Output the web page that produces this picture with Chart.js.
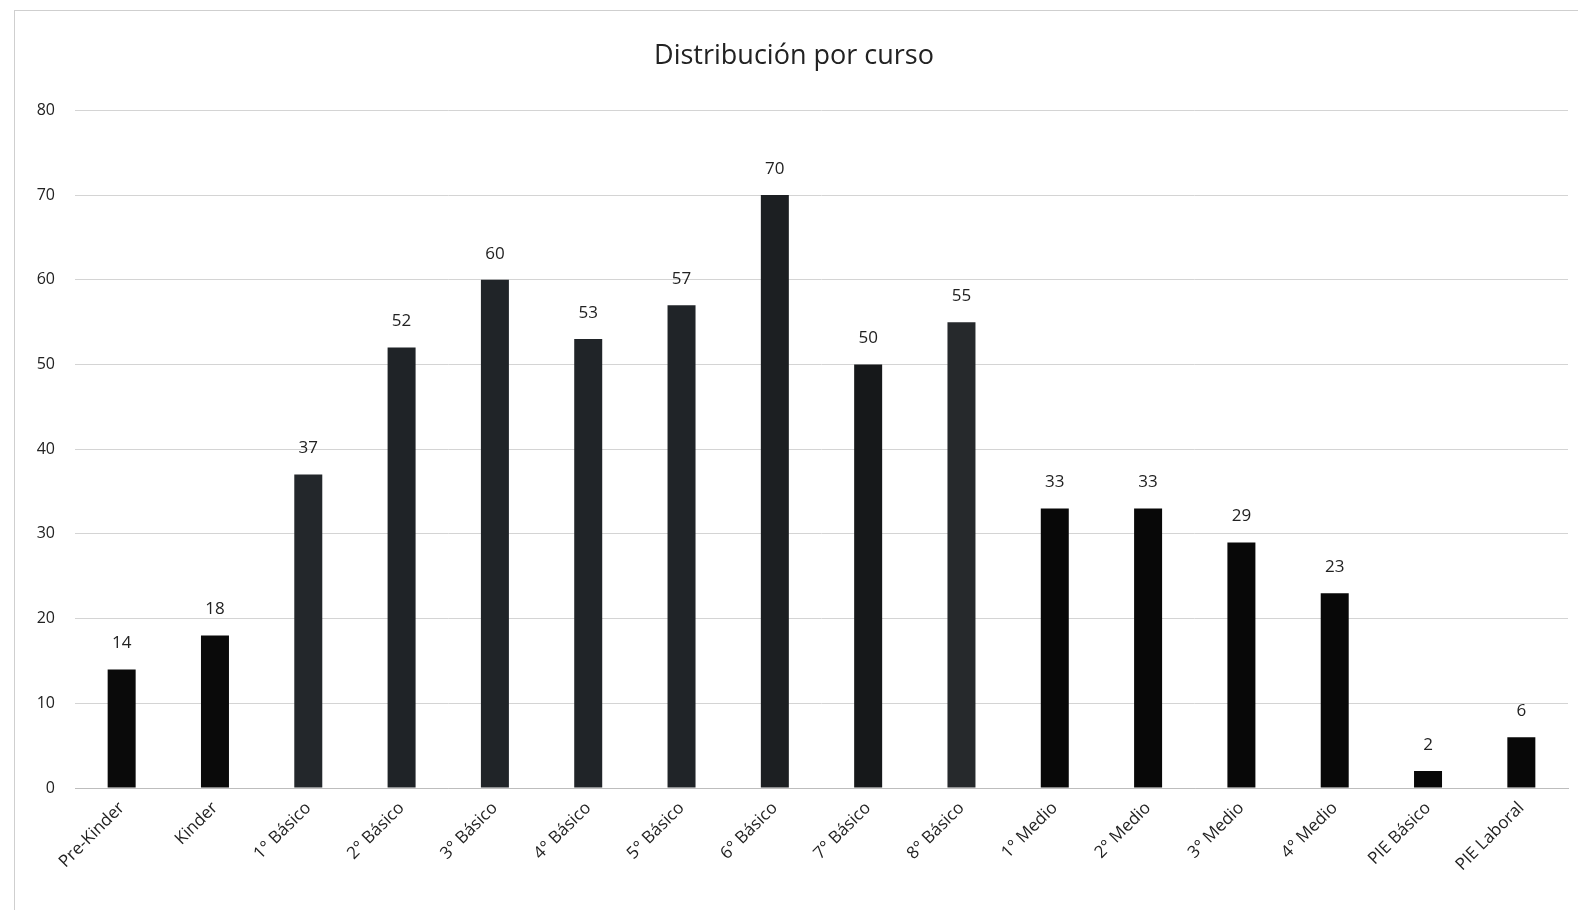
<!DOCTYPE html>
<html><head><meta charset="utf-8">
<script src="https://cdn.jsdelivr.net/npm/chart.js@4"></script>
<style>
html,body{margin:0;padding:0;background:#fff;}
#wrap{position:absolute;left:0;top:0;width:1578px;height:910px;}
#frame{position:absolute;left:14px;top:10px;width:1570px;height:905px;border:1px solid #cfcfcf;box-sizing:border-box;pointer-events:none;}
</style></head>
<body>
<div id="wrap"><canvas id="c" width="1578" height="910"></canvas></div>
<div id="frame"></div>
<script>
const categories = ["Pre-Kinder","Kinder","1° Básico","2° Básico","3° Básico","4° Básico","5° Básico","6° Básico","7° Básico","8° Básico","1° Medio","2° Medio","3° Medio","4° Medio","PIE Básico","PIE Laboral"];
const students = [14,18,37,52,60,53,57,70,50,55,33,33,29,23,2,6];
const barColors = ["#0a0a0a","#0a0a0a","#23272b","#1f2327","#202428","#202428","#202428","#1c1f22","#16181a","#26292c","#080808","#080808","#080808","#080808","#080808","#080808"];
const yTicks = [0,10,20,30,40,50,60,70,80];

const labelPlugin = {
  id:'valueLabels',
  afterDatasetsDraw(chart){
    const ctx = chart.ctx;
    const meta = chart.getDatasetMeta(0);
    ctx.save();
    ctx.font = '17px "Open Sans", sans-serif';
    ctx.fillStyle = '#222';
    ctx.textAlign = 'center';
    ctx.textBaseline = 'middle';
    meta.data.forEach((bar,i)=>{
      ctx.fillText(String(students[i]), bar.x, bar.y - 26);
    });
    ctx.restore();
  }
};

new Chart(document.getElementById('c'),{
  type:'bar',
  data:{labels:categories,datasets:[{data:students,backgroundColor:barColors,barPercentage:0.3,categoryPercentage:1}]},
  options:{
    responsive:false,animation:false,devicePixelRatio:1,
    layout:{padding:{left:20,right:10,top:40,bottom:25}},
    plugins:{
      legend:{display:false},tooltip:{enabled:false},
      title:{display:true,text:'Distribución por curso',color:'#222',font:{family:'"Open Sans", sans-serif',size:27,weight:'normal'},padding:{top:0,bottom:38}}
    },
    scales:{
      x:{
        grid:{display:false,drawTicks:false},
        border:{display:true,color:'#bdbdbd',width:1},
        ticks:{color:'#222',font:{family:'"Open Sans", sans-serif',size:17},maxRotation:45,minRotation:45,padding:10}
      },
      y:{
        min:0,max:80,
        afterBuildTicks(axis){axis.ticks = yTicks.map(v=>({value:v}));},
        afterFit(axis){axis.width = 55;},
        grid:{color:'#d4d4d4',drawTicks:false},
        border:{display:false},
        ticks:{color:'#222',font:{family:'"Open Sans", sans-serif',size:16},padding:20}
      }
    }
  },
  plugins:[labelPlugin]
});
</script>
</body></html>
